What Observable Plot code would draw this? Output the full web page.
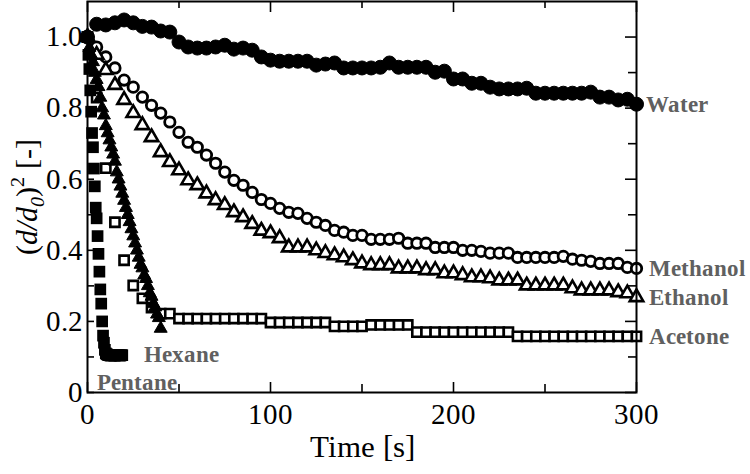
<!DOCTYPE html>
<html><head><meta charset="utf-8">
<script src="https://cdn.jsdelivr.net/npm/d3@7"></script>
<script src="https://cdn.jsdelivr.net/npm/@observablehq/plot@0.6"></script>
<style>
@font-face{font-family:"RefSerif";font-style:normal;font-weight:400;src:local("Liberation Serif"),local("LiberationSerif"),local("LiberationSerif-Regular"),local("Times New Roman"),local("Tinos"),local("DejaVu Serif Condensed"),local("DejaVuSerifCondensed");}
@font-face{font-family:"RefSerif";font-style:normal;font-weight:700;src:local("Liberation Serif Bold"),local("LiberationSerif-Bold"),local("Times New Roman Bold"),local("Tinos Bold"),local("DejaVu Serif Condensed Bold"),local("DejaVuSerifCondensed-Bold");}
@font-face{font-family:"RefSerif";font-style:italic;font-weight:400;src:local("Liberation Serif Italic"),local("LiberationSerif-Italic"),local("Times New Roman Italic"),local("Tinos Italic"),local("DejaVu Serif Condensed Italic"),local("DejaVuSerifCondensed-Italic");}
body{margin:0;background:#fff}
svg text{font-stretch:condensed}
</style>
</head><body><div id="chart"></div>
<script>
// time bases [s]
const times5 = [0,5,10,15,20,25,30,35,40,45,50,55,60,65,70,75,80,85,90,95,100,105,110,115,120,125,130,135,140,145,150,155,160,165,170,175,180,185,190,195,200,205,210,215,220,225,230,235,240,245,250,255,260,265,270,275,280,285,290,295,300];
const timesHexane = [0,1,2,3,4,5,6,7,8,9,10,11,12,13,14,15,16,17,18,19,20,21,22,23,24,25,26,27,28,29,30,31,32,33,34,35,36,37,38,39,40];
const timesPentane = [0,0.5,1,1.5,2,2.5,3,3.5,4,4.5,5,5.5,6,6.5,7,7.5,8,8.5,9,9.5,10,10.5,11,11.5,12,12.5,13,13.5,14,14.5,15,15.5,16,16.5,17,17.5,18,18.5,19];

// (d/d0)^2 values
const water = [1.00,1.036,1.034,1.040,1.048,1.040,1.030,1.028,1.017,1.014,0.986,0.972,0.969,0.969,0.972,0.977,0.966,0.969,0.963,0.944,0.935,0.932,0.932,0.932,0.932,0.921,0.924,0.927,0.913,0.913,0.913,0.913,0.915,0.927,0.915,0.915,0.915,0.915,0.901,0.904,0.882,0.882,0.870,0.870,0.859,0.854,0.854,0.854,0.856,0.842,0.842,0.842,0.842,0.842,0.842,0.845,0.831,0.831,0.823,0.825,0.811];
const methanol = [1.00,0.972,0.944,0.913,0.879,0.859,0.831,0.808,0.786,0.761,0.732,0.704,0.690,0.668,0.645,0.620,0.597,0.583,0.563,0.543,0.532,0.518,0.507,0.504,0.490,0.479,0.470,0.456,0.451,0.442,0.442,0.431,0.431,0.431,0.434,0.420,0.420,0.420,0.408,0.408,0.408,0.400,0.400,0.397,0.392,0.392,0.392,0.380,0.380,0.380,0.380,0.380,0.383,0.375,0.372,0.369,0.363,0.363,0.363,0.352,0.349];
const ethanol = [1.00,0.950,0.907,0.865,0.823,0.786,0.752,0.718,0.676,0.648,0.625,0.597,0.583,0.560,0.541,0.527,0.507,0.493,0.474,0.455,0.448,0.434,0.408,0.408,0.408,0.400,0.392,0.386,0.380,0.372,0.363,0.358,0.358,0.358,0.349,0.349,0.349,0.344,0.344,0.335,0.335,0.330,0.324,0.324,0.321,0.315,0.315,0.315,0.301,0.301,0.301,0.301,0.301,0.293,0.287,0.287,0.287,0.287,0.282,0.279,0.268];
const acetone = [1.00,0.830,0.631,0.479,0.372,0.301,0.265,0.239,0.222,0.222,0.208,0.208,0.208,0.208,0.208,0.208,0.208,0.208,0.208,0.208,0.197,0.197,0.197,0.197,0.197,0.197,0.197,0.186,0.186,0.186,0.186,0.190,0.190,0.190,0.190,0.190,0.170,0.170,0.170,0.170,0.170,0.170,0.170,0.170,0.170,0.170,0.170,0.158,0.158,0.158,0.158,0.158,0.158,0.158,0.158,0.158,0.158,0.158,0.158,0.158,0.158];
const hexane = [1.00,0.97,0.95,0.93,0.90,0.88,0.86,0.83,0.80,0.78,0.75,0.73,0.71,0.69,0.67,0.65,0.62,0.60,0.58,0.56,0.54,0.52,0.50,0.48,0.46,0.44,0.42,0.40,0.38,0.36,0.35,0.33,0.32,0.30,0.28,0.27,0.25,0.24,0.22,0.21,0.18];
const pentane = [1.00,0.95,0.91,0.85,0.79,0.73,0.69,0.63,0.58,0.52,0.49,0.44,0.39,0.34,0.29,0.25,0.20,0.16,0.14,0.12,0.11,0.108,0.106,0.105,0.105,0.104,0.104,0.105,0.105,0.104,0.104,0.105,0.105,0.105,0.105,0.104,0.104,0.105,0.105];

// axis ticks
const xMajorTicks = [0,100,200,300];
const xMinorTicks = [50,150,250];
const yLabelTicks = [0,0.2,0.4,0.6,0.8,1.0];
const yMinorTicks = [0.1,0.3,0.5,0.7,0.9];
const seriesNames = ["Water","Methanol","Ethanol","Acetone","Hexane","Pentane"];

const zip = (ts, vs) => ts.map((t, i) => ({t, v: vs[i]}));
const W = zip(times5, water), M = zip(times5, methanol), E = zip(times5, ethanol),
      A = zip(times5, acetone), H = zip(timesHexane, hexane), P = zip(timesPentane, pentane);
const last = arr => [arr[arr.length - 1]];

const width = 750, height = 474, mL = 87, mR = 114, mT = 1, mB = 82;
const ph = height - mT - mB, pw = width - mL - mR;
const gray = "#606060";
const serif = "RefSerif, 'Liberation Serif', 'DejaVu Serif Condensed', 'Times New Roman', serif";
const labelFont = {fontFamily: serif, fontWeight: "bold", fontSize: 23, fill: gray, textAnchor: "start"};

const chart = Plot.plot({
  width, height, marginLeft: mL, marginRight: mR, marginTop: mT, marginBottom: mB,
  style: {fontFamily: serif, fontSize: "29px", background: "#fff", color: "#000"},
  x: {domain: [0, 300], label: null},
  y: {domain: [0, 1.1], label: null},
  marks: [
    // inward tick marks on all sides
    Plot.tickX(xMajorTicks, {x: d => d, insetTop: ph - 10, stroke: "#000", strokeWidth: 1.6}),
    Plot.tickX(xMinorTicks, {x: d => d, insetTop: ph - 8, stroke: "#000", strokeWidth: 1.6}),
    Plot.tickX(xMajorTicks, {x: d => d, insetBottom: ph - 11, stroke: "#000", strokeWidth: 1.6}),
    Plot.tickX(xMinorTicks, {x: d => d, insetBottom: ph - 7, stroke: "#000", strokeWidth: 1.6}),
    Plot.tickY(yLabelTicks.concat(yMinorTicks), {y: d => d, insetRight: pw - 7, stroke: "#000", strokeWidth: 1.6}),
    Plot.tickY(yLabelTicks, {y: d => d, insetLeft: pw - 11, stroke: "#000", strokeWidth: 1.6}),
    Plot.tickY(yMinorTicks, {y: d => d, insetLeft: pw - 8, stroke: "#000", strokeWidth: 1.6}),
    // series
    Plot.dot(W, {x: "t", y: "v", r: 7, symbol: "circle", fill: "#000", stroke: "#000", strokeWidth: 1}),
    Plot.dot(M, {x: "t", y: "v", r: 5.2, symbol: "circle", fill: "#fff", stroke: "#000", strokeWidth: 2.8}),
    Plot.dot(E, {x: "t", y: "v", r: 5, symbol: "triangle", fill: "#fff", stroke: "#000", strokeWidth: 2.6}),
    Plot.dot(A, {x: "t", y: "v", r: 5.2, symbol: "square", fill: "#fff", stroke: "#000", strokeWidth: 2.6}),
    Plot.dot(H, {x: "t", y: "v", r: 4.8, symbol: "triangle", fill: "#000", stroke: "#000", strokeWidth: 1}),
    Plot.dot(P, {x: "t", y: "v", r: 6.6, symbol: "square", fill: "#000", stroke: "none"}),
    // series labels
    Plot.text(last(W), {x: "t", y: "v", text: () => seriesNames[0], dx: 9, ...labelFont}),
    Plot.text(last(M), {x: "t", y: "v", text: () => seriesNames[1], dx: 12, ...labelFont}),
    Plot.text(last(E), {x: "t", y: "v", text: () => seriesNames[2], dx: 12, ...labelFont}),
    Plot.text(last(A), {x: "t", y: "v", text: () => seriesNames[3], dx: 12, ...labelFont}),
    Plot.text(last(H), {x: "t", y: "v", text: () => seriesNames[4], dx: -17, dy: 26, ...labelFont}),
    Plot.text(last(P), {x: "t", y: "v", text: () => seriesNames[5], dx: -25, dy: 27, ...labelFont}),
    // axes
    Plot.axisX(xMajorTicks, {tickSize: 0, tickPadding: 11, fontSize: 29, label: null}),
    Plot.axisY(yLabelTicks, {tickSize: 0, tickPadding: 5, fontSize: 29, label: null,
      tickFormat: d => d === 0 ? "0" : d3.format(".1f")(d)}),
    Plot.text(["Time [s]"], {frameAnchor: "bottom", dy: 64, fontSize: 31, text: d => d}),
    Plot.frame({stroke: "#000", strokeWidth: 2})
  ]
});
document.getElementById("chart").appendChild(chart);

// y-axis title with italic, subscript and superscript parts
const svg = d3.select(chart);
const yt = svg.append("text")
  .attr("transform", `translate(37,${mT + ph / 2}) rotate(-90)`)
  .attr("text-anchor", "middle")
  .attr("font-family", serif)
  .attr("font-size", 30)
  .attr("fill", "#000");
yt.append("tspan").text("(");
yt.append("tspan").attr("font-style", "italic").text("d/d");
yt.append("tspan").attr("font-style", "italic").attr("font-size", 20).attr("dy", 7).text("0");
yt.append("tspan").attr("dy", -7).text(")");
yt.append("tspan").attr("font-size", 20).attr("dy", -13).text("2");
yt.append("tspan").attr("dy", 13).text(" [-]");
</script>
</body></html>
